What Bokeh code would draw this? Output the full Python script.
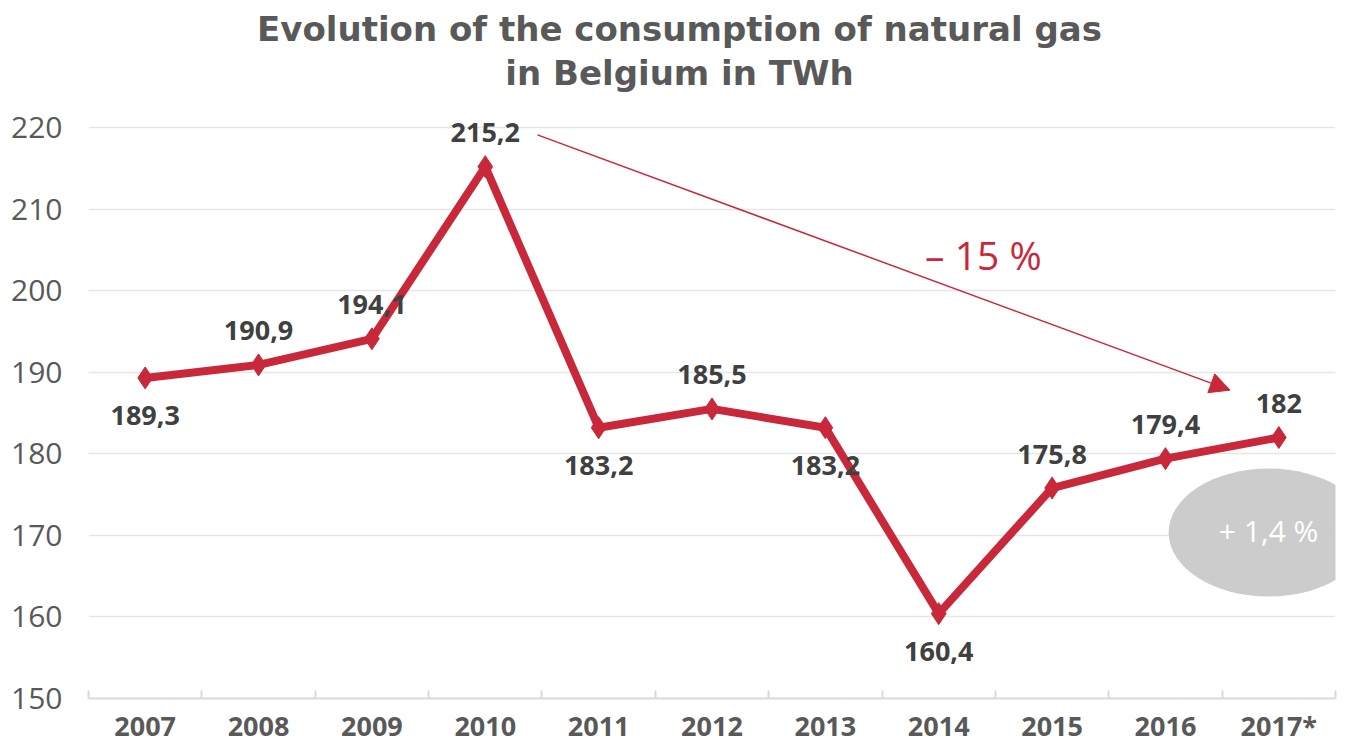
from bokeh.plotting import figure
from bokeh.models import (FactorRange, Range1d, FixedTicker, LinearAxis, CategoricalAxis,
                          Label, Arrow, NormalHead, ColumnDataSource)
from bokeh.core.properties import value
from bokeh.embed import file_html
from bokeh.resources import INLINE

# ---- data ----
years = ["2007", "2008", "2009", "2010", "2011", "2012", "2013", "2014", "2015", "2016", "2017*"]
consumption = [189.3, 190.9, 194.1, 215.2, 183.2, 185.5, 183.2, 160.4, 175.8, 179.4, 182.0]
value_labels = ["189,3", "190,9", "194,1", "215,2", "183,2", "185,5", "183,2", "160,4", "175,8", "179,4", "182"]
label_below = [True, False, False, False, True, False, True, True, False, False, False]
y_ticks = [150, 160, 170, 180, 190, 200, 210, 220]

title_line1 = "Evolution of the consumption of natural gas"
title_line2 = "in Belgium in TWh"
trend_text = "– 15 %"
change_text = "+ 1,4 %"

RED = "#C8283A"
GREY_TXT = "#595959"
DARK_TXT = "#404040"
FONT = "Open Sans"
TFONT = "DejaVu Sans"

# the frame reaches the top of the canvas so that the title can sit inside it
p = figure(frame_width=1247, frame_height=698, x_range=FactorRange(*years, range_padding=0),
           y_range=Range1d(150, 235.57), output_backend="svg", toolbar_location=None,
           x_axis_location=None, min_border_left=88, min_border_right=16,
           min_border_top=0, min_border_bottom=46)
p.outline_line_color = None
p.background_fill_color = "white"

# two-line title (screen units, relative to the frame's lower-left corner)
for txt, ty in ((title_line1, 670), (title_line2, 626)):
    p.add_layout(Label(x=591, y=ty, x_units="screen", y_units="screen", text=txt,
                       text_align="center", text_baseline="alphabetic",
                       text_font=TFONT, text_font_size="34px", text_font_style="bold",
                       text_color=GREY_TXT))

# y axis
yax = p.yaxis[0]
yax.ticker = FixedTicker(ticks=y_ticks)
yax.axis_line_color = None
yax.major_tick_line_color = None
yax.major_tick_out = 0
yax.major_tick_in = 0
yax.minor_tick_line_color = None
yax.major_label_text_font = FONT
yax.major_label_text_font_size = "30px"
yax.major_label_text_color = GREY_TXT
yax.major_label_standoff = 26

p.xgrid.visible = False
p.ygrid.ticker = FixedTicker(ticks=y_ticks)
p.ygrid.grid_line_color = "#E6E6E6"
p.ygrid.grid_line_width = 1.5

# x axis: boundary ticks + category labels
bound_axis = LinearAxis(ticker=FixedTicker(ticks=list(range(len(years) + 1))),
                        major_label_overrides={i: "" for i in range(len(years) + 1)},
                        major_label_text_font_size="0px", major_label_standoff=0,
                        major_tick_in=8, major_tick_out=0,
                        axis_line_color="#D9D9D9", axis_line_width=2,
                        major_tick_line_color="#D9D9D9", major_tick_line_width=2,
                        minor_tick_line_color=None)
p.add_layout(bound_axis, "below")
cat_axis = CategoricalAxis(axis_line_color=None, major_tick_line_color=None,
                           major_tick_in=0, major_tick_out=0,
                           major_label_text_font=FONT, major_label_text_font_size="27px",
                           major_label_text_font_style="bold", major_label_text_color=GREY_TXT,
                           major_label_standoff=8)
p.add_layout(cat_axis, "below")

# line + markers
src = ColumnDataSource(dict(x=years, y=consumption, lab=value_labels,
                            off=[38 if b else -34 for b in label_below]))
p.line("x", "y", source=src, line_color=RED, line_width=8)
p.scatter("x", "y", source=src, marker="diamond", size=22, fill_color=RED, line_color=RED)

p.text("x", "y", text="lab", source=src, y_offset="off", text_align="center",
       text_baseline="middle", text_font=value(FONT), text_font_size="27px",
       text_font_style="bold", text_color=DARK_TXT)

# trend arrow and its label
arrow_start = (3.96, 219.1)
arrow_end = (10.07, 187.8)
p.add_layout(Arrow(end=NormalHead(size=20, fill_color=RED, line_color=RED),
                   x_start=arrow_start[0], y_start=arrow_start[1],
                   x_end=arrow_end[0], y_end=arrow_end[1],
                   line_color=RED, line_width=1.5))
p.text(x=[7.38], y=[204.4], text=[trend_text], text_align="left", text_baseline="middle",
       text_font=value(FONT), text_font_size="39px", text_color=RED)

# change ellipse
p.ellipse(x=[10.41], y=[170.35], width=200, height=128, width_units="screen",
          height_units="screen", fill_color="#CCCCCC", line_color=None)
p.text(x=[10.41], y=[170.6], text=[change_text], text_align="center", text_baseline="middle",
       text_font=value(FONT), text_font_size="30px", text_color="white")

open("out.html", "w").write(file_html(p, INLINE))
